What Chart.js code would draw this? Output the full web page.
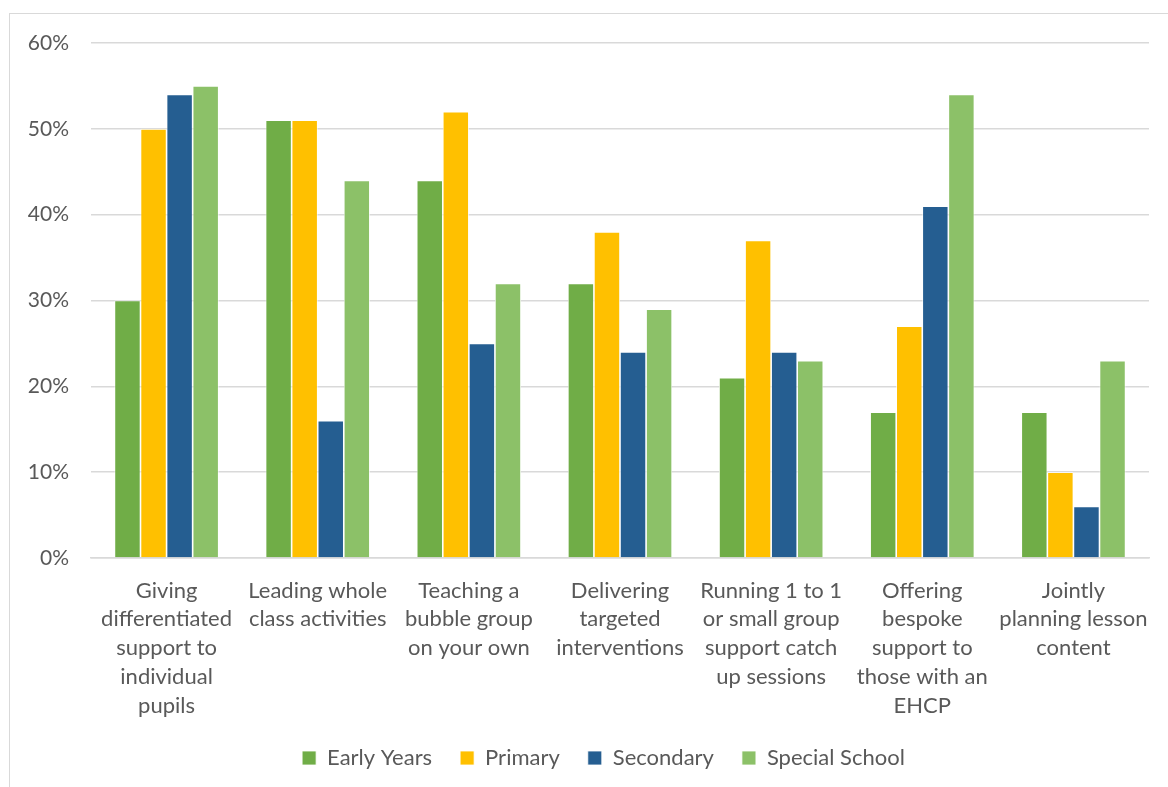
<!DOCTYPE html>
<html>
<head>
<meta charset="utf-8">
<script src="https://cdn.jsdelivr.net/npm/chart.js@4/dist/chart.umd.min.js"></script>
<style>
  html,body{margin:0;padding:0;background:#fff;overflow:hidden;}
  #box{position:absolute;left:9px;top:13px;width:1184px;height:774px;border-left:1px solid #d9d9d9;border-top:1px solid #d9d9d9;box-sizing:border-box;}
  #c{display:block;}
</style>
</head>
<body>
<div id="box"><canvas id="c" width="1158" height="773"></canvas></div>
<script>
/* ---------- data ---------- */
const categories = [
  ['Giving', 'differentiated', 'support to', 'individual', 'pupils'],
  ['Leading whole', 'class activities'],
  ['Teaching a', 'bubble group', 'on your own'],
  ['Delivering', 'targeted', 'interventions'],
  ['Running 1 to 1', 'or small group', 'support catch', 'up sessions'],
  ['Offering', 'bespoke', 'support to', 'those with an', 'EHCP'],
  ['Jointly', 'planning lesson', 'content']
];
const earlyYears    = [30, 51, 44, 32, 21, 17, 17];
const primary       = [50, 51, 52, 38, 37, 27, 10];
const secondary     = [54, 16, 25, 24, 24, 41, 6];
const specialSchool = [55, 44, 32, 29, 23, 54, 23];
const yTicks = [0, 10, 20, 30, 40, 50, 60];

const txt = '#595959';
const fontFam = 'Lato, "Open Sans", sans-serif';

const mk = (label, data, color) => ({
  label, data, backgroundColor: color, borderColor: '#ffffff',
  borderWidth: 0.8, barPercentage: 1, categoryPercentage: 0.69
});

// legend sits a little right of centre in the original
const shiftLegend = {
  id: 'shiftLegend',
  afterLayout(c) { c.legend.left += 24; c.legend.right += 24; }
};

new Chart(document.getElementById('c').getContext('2d'), {
  type: 'bar',
  data: {
    labels: categories,
    datasets: [
      mk('Early Years', earlyYears, '#70AD47'),
      mk('Primary', primary, '#FFC000'),
      mk('Secondary', secondary, '#255E91'),
      mk('Special School', specialSchool, '#8CC168')
    ]
  },
  plugins: [shiftLegend],
  options: {
    responsive: false,
    animation: false,
    layout: { padding: { top: 29, right: 19, left: 0, bottom: 8 } },
    plugins: {
      tooltip: { enabled: false },
      legend: {
        position: 'bottom',
        labels: {
          color: txt, font: { family: fontFam, size: 22 },
          boxWidth: 14, boxHeight: 14, padding: 28
        }
      }
    },
    scales: {
      x: {
        grid: { display: false },
        border: { color: '#d9d9d9', width: 1.5 },
        ticks: {
          color: txt, font: { family: fontFam, size: 22, lineHeight: 1.31 },
          padding: 10, maxRotation: 0, autoSkip: false
        },
        afterFit: s => { s.height = 161; s.paddingLeft = 0; s.paddingRight = 0; }
      },
      y: {
        min: 0, max: 60,
        afterBuildTicks: s => { s.ticks = yTicks.map(v => ({ value: v })); },
        grid: { color: '#d9d9d9', lineWidth: 1.5, drawTicks: false },
        border: { display: false },
        ticks: {
          color: txt, font: { family: fontFam, size: 21 }, padding: 22,
          callback: v => v + '%'
        },
        afterFit: s => { s.width = 81; s.paddingTop = 0; s.paddingBottom = 0; }
      }
    }
  }
});
</script>
</body>
</html>
